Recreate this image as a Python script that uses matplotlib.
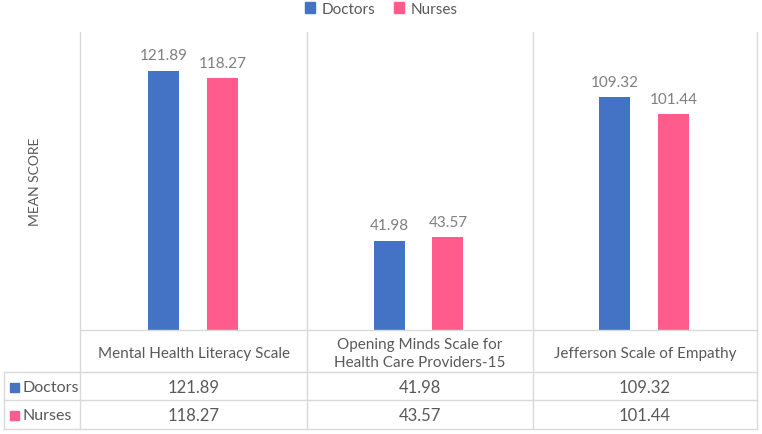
import matplotlib.pyplot as plt
import numpy as np
from matplotlib.lines import Line2D
from matplotlib.patches import Rectangle

plt.rcParams['font.family'] = ['Lato', 'DejaVu Sans']

categories = ["Mental Health Literacy Scale",
              "Opening Minds Scale for\nHealth Care Providers-15",
              "Jefferson Scale of Empathy"]
series_names = ["Doctors", "Nurses"]
doctors = [121.89, 41.98, 109.32]
nurses = [118.27, 43.57, 101.44]
colors = ["#4472C4", "#FF5C8D"]

W, H = 762, 435
grid_col = "#d9d9d9"
text_col = "#595959"

fig = plt.figure(figsize=(W / 100, H / 100), dpi=100)

# pixel helpers (top-left origin)
def fx(px):
    return px / W

def fy(py):
    return 1 - py / H

left, right, top, base = 80, 757, 33, 331
ax = fig.add_axes([fx(left), fy(base), fx(right) - fx(left), fy(top) - fy(base)])

x = np.arange(len(categories))
bw = 0.137
off = 0.1305
for vals, name, c, sign in zip([doctors, nurses], series_names, colors, [-1, 1]):
    bars = ax.bar(x + sign * off, vals, width=bw, color=c, label=name, zorder=3)
    for b, v in zip(bars, vals):
        ax.annotate(f"{v:.2f}", (b.get_x() + b.get_width() / 2, v),
                    xytext=(0, 6), textcoords="offset points",
                    ha="center", va="bottom", fontsize=11, color="#7f7f7f")

ax.set_xlim(-0.5, 2.5)
ax.set_ylim(0, 140)
ax.set_xticks([])
ax.set_yticks([])
for s in ax.spines.values():
    s.set_visible(False)

# y label
fig.text(fx(35), fy(182), "MEAN SCORE", rotation=90, ha="center", va="center",
         fontsize=10, color=text_col)

# legend
handles = [Rectangle((0, 0), 1, 1, color=c) for c in colors]
fig.legend(handles, series_names, loc="center", bbox_to_anchor=(fx(381), fy(10)),
           ncol=2, frameon=False, fontsize=11, handlelength=0.7, handleheight=0.7,
           columnspacing=1.2, handletextpad=0.4, labelcolor=text_col)

# table grid
def hline(y, x0, x1):
    fig.add_artist(Line2D([fx(x0), fx(x1)], [fy(y), fy(y)], color=grid_col, lw=1))

def vline(xp, y0, y1):
    fig.add_artist(Line2D([fx(xp), fx(xp)], [fy(y0), fy(y1)], color=grid_col, lw=1))

col_edges = [80, 307, 533, 757]
hline(base, left, right)
for yy in [373, 401, 430]:
    hline(yy, 4, right)
vline(4, 373, 430)
for xe in col_edges:
    vline(xe, top, 430)

# table text
for i, cat in enumerate(categories):
    cx = (col_edges[i] + col_edges[i + 1]) / 2
    fig.text(fx(cx), fy(354), cat, ha="center", va="center", fontsize=11,
             color=text_col, linespacing=1.3)
    fig.text(fx(cx), fy(388), f"{doctors[i]:.2f}", ha="center", va="center",
             fontsize=12, color=text_col)
    fig.text(fx(cx), fy(416), f"{nurses[i]:.2f}", ha="center", va="center",
             fontsize=12, color=text_col)

for name, c, yy in zip(series_names, colors, [388, 416]):
    fig.add_artist(Rectangle((fx(10), fy(yy) - 4.5 / H), 9 / W, 9 / H, color=c,
                             transform=fig.transFigure))
    fig.text(fx(23), fy(yy), name, ha="left", va="center", fontsize=11.5, color=text_col)

fig.savefig("out.png", dpi=100)
